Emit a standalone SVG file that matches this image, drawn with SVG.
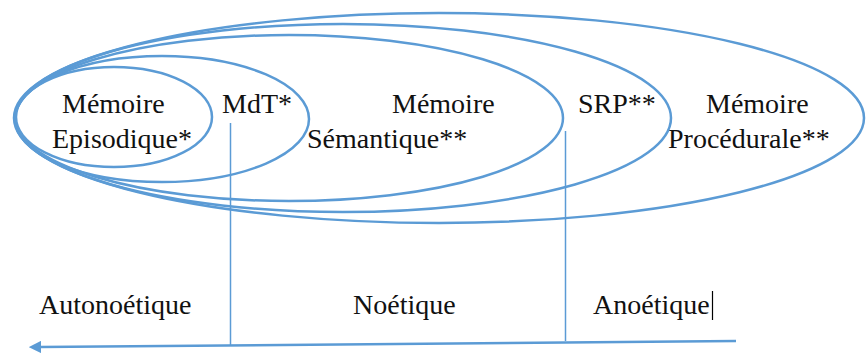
<svg xmlns="http://www.w3.org/2000/svg" width="866" height="354" viewBox="0 0 866 354">
<style>
.e{fill:none;stroke:#5B9BD5;stroke-width:2.5}
.v{stroke:#5B9BD5;stroke-width:1.5}
.t{font-family:'Liberation Serif','Tinos','Times New Roman','DejaVu Serif',serif;font-size:28px;fill:#111}
</style>
<defs>
<marker id="ah" viewBox="0 0 10 10" refX="1" refY="5" markerWidth="5" markerHeight="5" orient="auto-start-reverse" markerUnits="strokeWidth">
<path d="M0,0 L10,5 L0,10 z" fill="#5B9BD5"/>
</marker>
</defs>
<rect width="866" height="354" fill="#fff"/>
<g id="procedurale">
<ellipse class="e" cx="439" cy="118" rx="425" ry="105"/>
<text class="t" font-family="Liberation Serif, serif" x="706" y="113">Mémoire</text>
<text class="t" font-family="Liberation Serif, serif" x="668" y="148">Procédurale**</text>
</g>
<g id="srp">
<ellipse class="e" cx="343" cy="118" rx="328" ry="94"/>
<text class="t" font-family="Liberation Serif, serif" x="578" y="113">SRP**</text>
</g>
<g id="semantique">
<ellipse class="e" cx="289" cy="118" rx="274" ry="83"/>
<text class="t" font-family="Liberation Serif, serif" x="392" y="113">Mémoire</text>
<text class="t" font-family="Liberation Serif, serif" x="307" y="148">Sémantique**</text>
</g>
<g id="mdt">
<ellipse class="e" cx="162" cy="119" rx="147" ry="63"/>
<text class="t" font-family="Liberation Serif, serif" x="222" y="113">MdT*</text>
</g>
<g id="episodique">
<ellipse class="e" cx="114" cy="117" rx="98" ry="50"/>
<text class="t" font-family="Liberation Serif, serif" x="62" y="113">Mémoire</text>
<text class="t" font-family="Liberation Serif, serif" x="52" y="148">Episodique*</text>
</g>
<g id="connectors">
<line class="v" x1="230.5" y1="123" x2="230.5" y2="345"/>
<line class="v" x1="565.5" y1="131" x2="565.5" y2="341"/>
<line x1="736" y1="341" x2="40" y2="347" stroke="#5B9BD5" stroke-width="2.5" marker-end="url(#ah)"/>
</g>
<g id="axis-labels">
<text class="t" font-family="Liberation Serif, serif" x="39" y="314">Autonoétique</text>
<text class="t" font-family="Liberation Serif, serif" x="353" y="314">Noétique</text>
<text class="t" font-family="Liberation Serif, serif" x="593" y="314">Anoétique</text>
<line x1="712.5" y1="291" x2="712.5" y2="320" stroke="#000" stroke-width="1.2"/>
</g>
</svg>
